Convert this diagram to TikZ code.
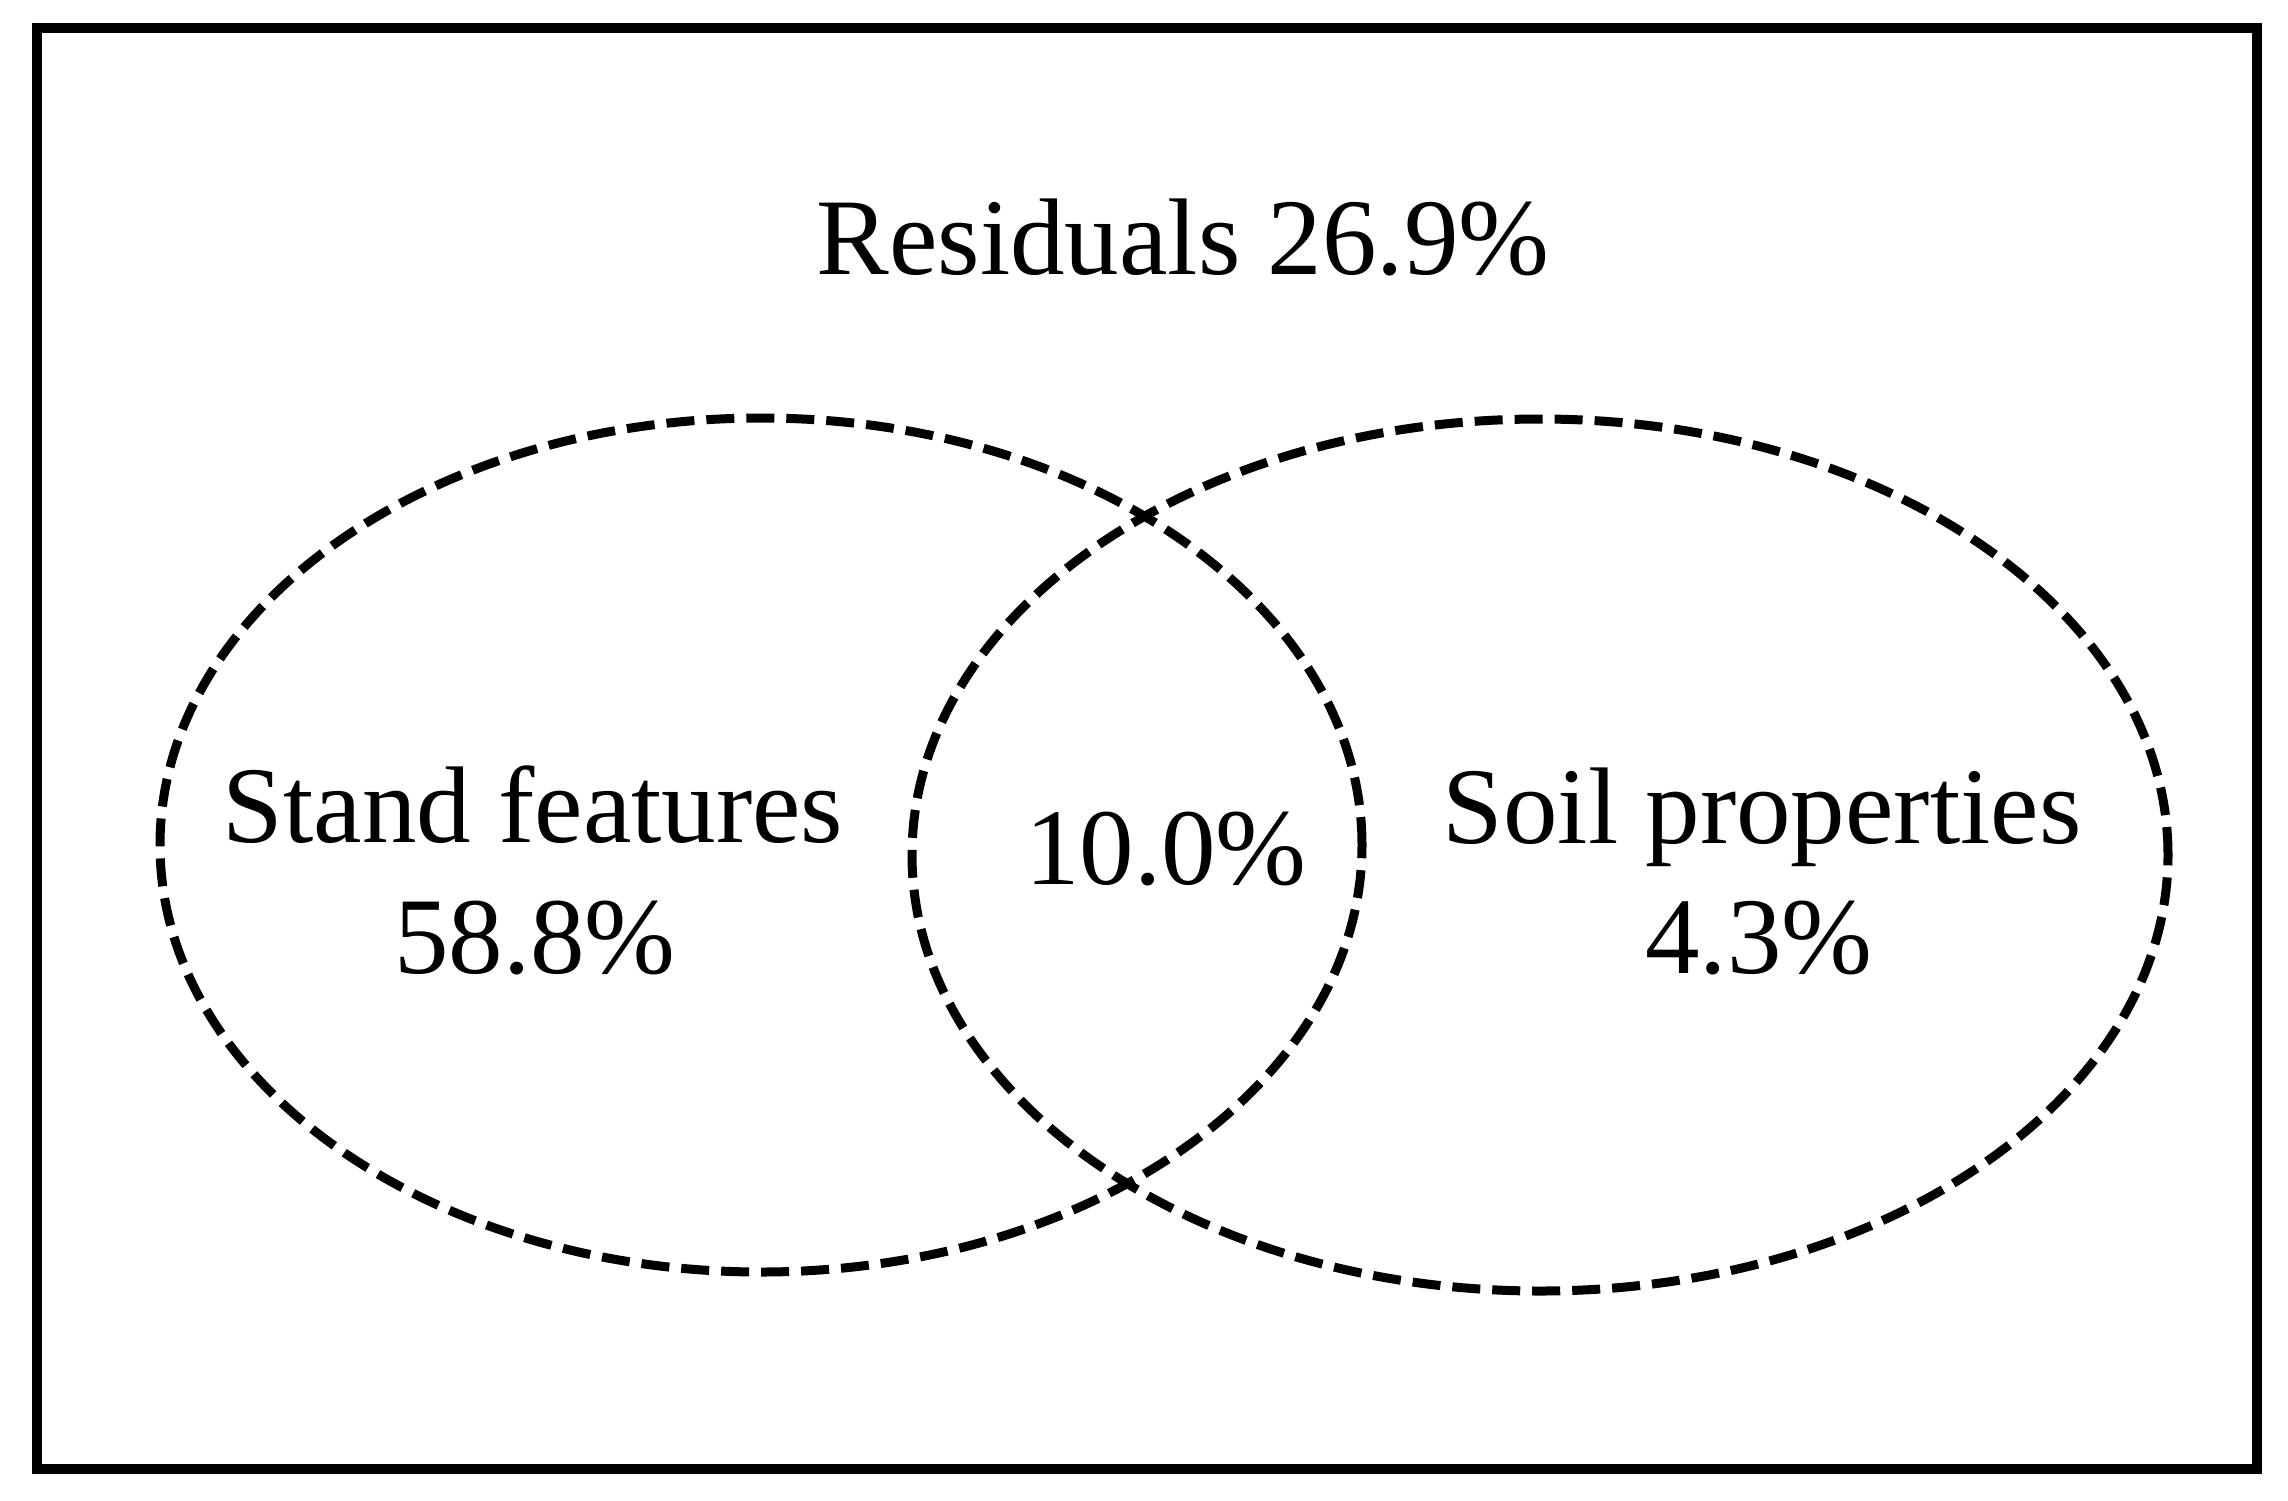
\documentclass[tikz,border=0pt]{standalone}
\usepackage{fontspec}
\setmainfont{Liberation Serif}
\begin{document}
\begin{tikzpicture}[x=1pt,y=-1pt,
  lbl/.style={font=\fontsize{109}{131}\selectfont, inner sep=0pt, anchor=base},
  setline/.style={line width=9pt, dash pattern=on 28pt off 12pt},
  frame/.style={line width=10.5pt}]
\useasboundingbox (0,0) rectangle (2288,1500);
\draw[frame] (37,28) rectangle (2257,1469);
\draw[setline] (761,845) ellipse [x radius=601pt, y radius=427pt];
\draw[setline] (1540,855) ellipse [x radius=628pt, y radius=436pt];
\node[lbl] (res) at (1183,274) {Residuals 26.9\%};
\node[lbl] (standname) at (533,842) {Stand features};
\node[lbl] (standval) at (535,973) {58.8\%};
\node[lbl] (shared) at (1166,884) {10.0\%};
\node[lbl] (soilname) at (1762,843) {Soil properties};
\node[lbl] (soilval) at (1759,973) {4.3\%};
\end{tikzpicture}
\end{document}
